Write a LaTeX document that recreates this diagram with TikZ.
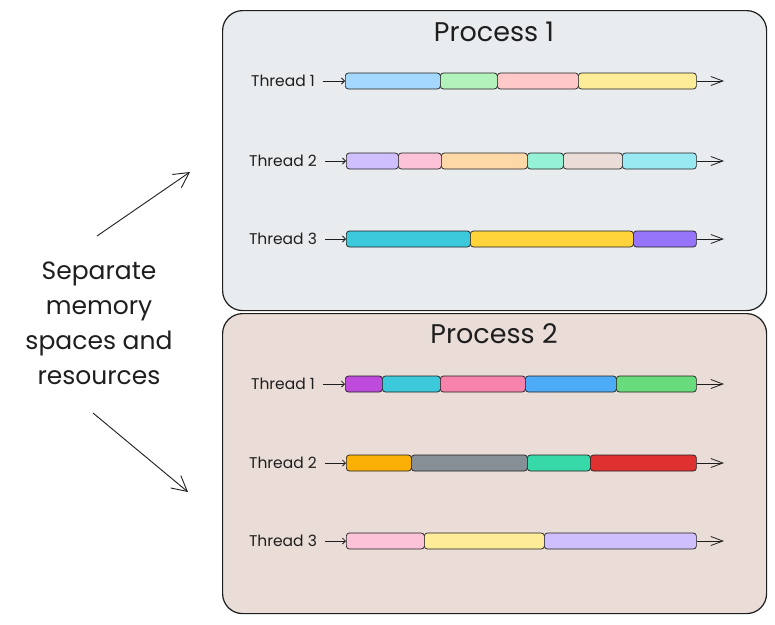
\documentclass[tikz,border=0pt]{standalone}
\usepackage{fontspec}
\setmainfont{Poppins}
\usetikzlibrary{arrows.meta}
\definecolor{ink}{HTML}{1E1E1E}
\definecolor{procA}{HTML}{E9ECEF}
\definecolor{procB}{HTML}{EADDD7}
\definecolor{cBlueL}{HTML}{A5D8FF}
\definecolor{cGreenL}{HTML}{B2F2BB}
\definecolor{cRedL}{HTML}{FFC9C9}
\definecolor{cYellowL}{HTML}{FFEC99}
\definecolor{cVioletL}{HTML}{D0BFFF}
\definecolor{cPinkL}{HTML}{FCC2D7}
\definecolor{cOrangeL}{HTML}{FFD8A8}
\definecolor{cTealL}{HTML}{96F2D7}
\definecolor{cBeige}{HTML}{EADDD7}
\definecolor{cCyanL}{HTML}{99E9F2}
\definecolor{cCyan}{HTML}{3BC9DB}
\definecolor{cYellow}{HTML}{FFD43B}
\definecolor{cViolet}{HTML}{9775FA}
\definecolor{cGrape}{HTML}{BE4BDB}
\definecolor{cPink}{HTML}{F783AC}
\definecolor{cBlue}{HTML}{4DABF7}
\definecolor{cGreen}{HTML}{69DB7C}
\definecolor{cOrange}{HTML}{FAB005}
\definecolor{cGray}{HTML}{868E96}
\definecolor{cTeal}{HTML}{38D9A9}
\definecolor{cRed}{HTML}{E03131}
\tikzset{
  procbox/.style={draw=ink, line width=1.2pt, rounded corners=20pt, anchor=north west, minimum width=544pt, minimum height=300pt},
  title/.style={text=ink, font=\fontsize{27}{32}\selectfont},
  thread/.style={text=ink, font=\fontsize{15.5}{18}\selectfont},
  seg/.style={draw=ink, line width=0.7pt, rounded corners=3pt, minimum height=16pt, inner sep=0pt, anchor=west},
  inflow/.style={-{Straight Barb[length=3pt, width=6pt]}, ink, line width=0.8pt, shorten <=5pt},
  outflow/.style={-{Straight Barb[length=12pt, width=9pt]}, ink, line width=0.8pt},
  bigflow/.style={-{Straight Barb[length=15pt, width=16pt]}, ink, line width=0.9pt},
}
\begin{document}
\begin{tikzpicture}[x=1pt, y=-1pt]
 					\useasboundingbox (0,0) rectangle (775,624);
 					
 					\node [procbox, fill=procA] (proc1) at (222,10) {};
 					\node [procbox, fill=procB] (proc2) at (222,313) {};
 					\node [title] (title1) at (494,32) {Process 1};
 					\node [title] (title2) at (494,334) {Process 2};
 					
 					% process 1
 					\node [thread] (p1lab1) at (283,81) {Thread 1};
 					\node [seg, fill=cBlueL, minimum width=95pt] (p1r1a) at (345,81) {};
 					\node [seg, fill=cGreenL, minimum width=57pt] (p1r1b) at (440,81) {};
 					\node [seg, fill=cRedL, minimum width=81pt] (p1r1c) at (497,81) {};
 					\node [seg, fill=cYellowL, minimum width=118pt] (p1r1d) at (578,81) {};
 					\coordinate (p1end1) at (724,81);
 					\draw [inflow] (p1lab1.east) -- (p1r1a.west);
 					\draw [outflow] (p1r1d.east) -- (p1end1);
 					
 					\node [thread] (p1lab2) at (283,161) {Thread 2};
 					\node [seg, fill=cVioletL, minimum width=52pt] (p1r2a) at (346,161) {};
 					\node [seg, fill=cPinkL, minimum width=43pt] (p1r2b) at (398,161) {};
 					\node [seg, fill=cOrangeL, minimum width=86pt] (p1r2c) at (441,161) {};
 					\node [seg, fill=cTealL, minimum width=36pt] (p1r2d) at (527,161) {};
 					\node [seg, fill=cBeige, minimum width=59pt] (p1r2e) at (563,161) {};
 					\node [seg, fill=cCyanL, minimum width=74pt] (p1r2f) at (622,161) {};
 					\coordinate (p1end2) at (724,161);
 					\draw [inflow] (p1lab2.east) -- (p1r2a.west);
 					\draw [outflow] (p1r2f.east) -- (p1end2);
 					
 					\node [thread] (p1lab3) at (283,239) {Thread 3};
 					\node [seg, fill=cCyan, minimum width=124pt] (p1r3a) at (346,239) {};
 					\node [seg, fill=cYellow, minimum width=163pt] (p1r3b) at (470,239) {};
 					\node [seg, fill=cViolet, minimum width=63pt] (p1r3c) at (633,239) {};
 					\coordinate (p1end3) at (724,239);
 					\draw [inflow] (p1lab3.east) -- (p1r3a.west);
 					\draw [outflow] (p1r3c.east) -- (p1end3);
 					
 					% process 2
 					\node [thread] (p2lab1) at (283,384) {Thread 1};
 					\node [seg, fill=cGrape, minimum width=37pt] (p2r1a) at (345,384) {};
 					\node [seg, fill=cCyan, minimum width=58pt] (p2r1b) at (382,384) {};
 					\node [seg, fill=cPink, minimum width=85pt] (p2r1c) at (440,384) {};
 					\node [seg, fill=cBlue, minimum width=91pt] (p2r1d) at (525,384) {};
 					\node [seg, fill=cGreen, minimum width=80pt] (p2r1e) at (616,384) {};
 					\coordinate (p2end1) at (724,384);
 					\draw [inflow] (p2lab1.east) -- (p2r1a.west);
 					\draw [outflow] (p2r1e.east) -- (p2end1);
 					
 					\node [thread] (p2lab2) at (283,463) {Thread 2};
 					\node [seg, fill=cOrange, minimum width=65pt] (p2r2a) at (346,463) {};
 					\node [seg, fill=cGray, minimum width=116pt] (p2r2b) at (411,463) {};
 					\node [seg, fill=cTeal, minimum width=63pt] (p2r2c) at (527,463) {};
 					\node [seg, fill=cRed, minimum width=106pt] (p2r2d) at (590,463) {};
 					\coordinate (p2end2) at (724,463);
 					\draw [inflow] (p2lab2.east) -- (p2r2a.west);
 					\draw [outflow] (p2r2d.east) -- (p2end2);
 					
 					\node [thread] (p2lab3) at (283,541) {Thread 3};
 					\node [seg, fill=cPinkL, minimum width=78pt] (p2r3a) at (346,541) {};
 					\node [seg, fill=cYellowL, minimum width=120pt] (p2r3b) at (424,541) {};
 					\node [seg, fill=cVioletL, minimum width=152pt] (p2r3c) at (544,541) {};
 					\coordinate (p2end3) at (724,541);
 					\draw [inflow] (p2lab3.east) -- (p2r3a.west);
 					\draw [outflow] (p2r3c.east) -- (p2end3);
 					
 					% note on the left
 					\node [text=ink, align=center, font=\fontsize{25}{35}\selectfont] (note) at (99,323) {Separate\\memory\\spaces and\\resources};
 					\coordinate (upfrom) at (97,236);
 					\coordinate (upto) at (190,172);
 					\coordinate (downfrom) at (93,413);
 					\coordinate (downto) at (188,492);
 					\draw [bigflow] (upfrom) -- (upto);
 					\draw [bigflow] (downfrom) -- (downto);
 				\end{tikzpicture}
\end{document}
